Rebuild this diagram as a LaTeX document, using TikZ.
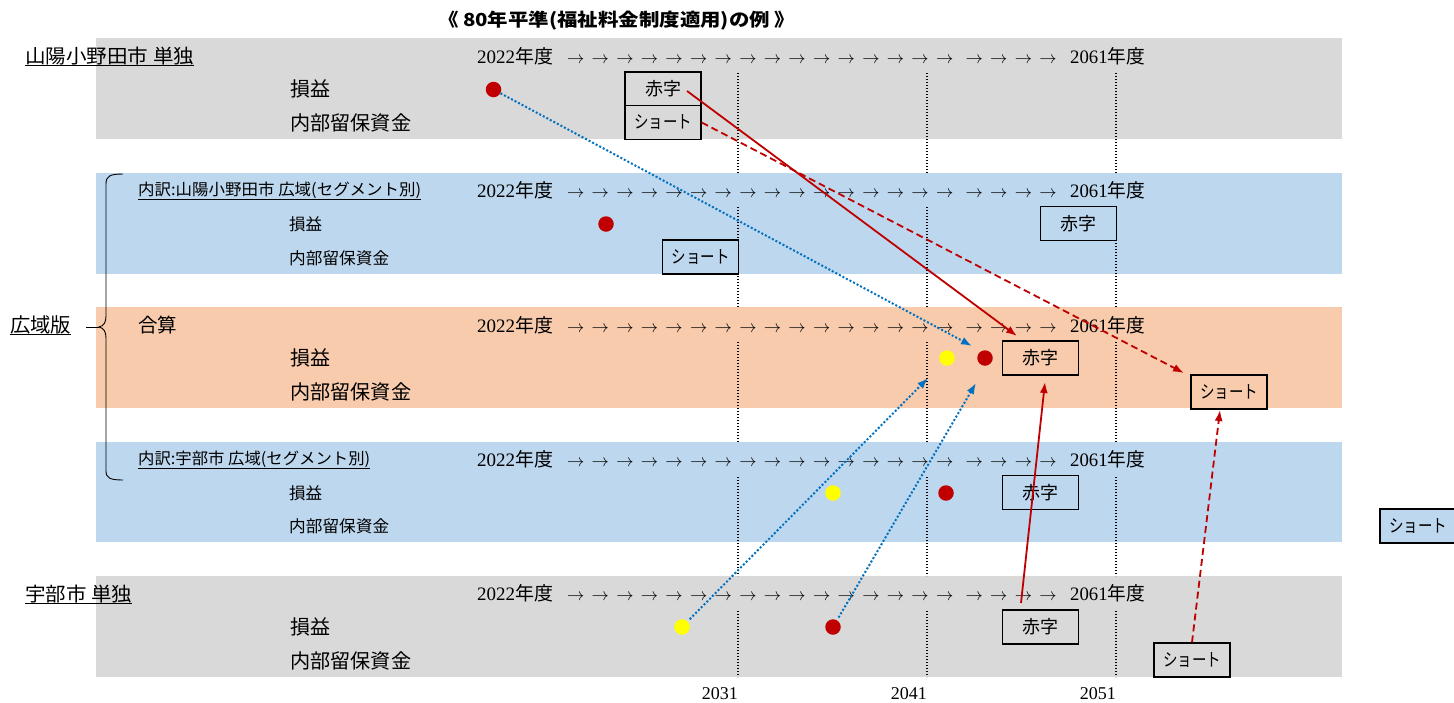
\documentclass[tikz,border=0pt]{standalone}
\usepackage{fontspec}
\usepackage{graphicx}
\setmainfont{Liberation Serif}
\newfontfamily\jp{Noto Sans CJK JP}
\usetikzlibrary{arrows.meta,calc}
\definecolor{bandgray}{HTML}{D9D9D9}
\definecolor{bandblue}{HTML}{BDD7EE}
\definecolor{bandorange}{HTML}{F8CBAD}
\definecolor{darkred}{HTML}{C00000}
\definecolor{linkblue}{HTML}{0070C0}
\definecolor{dotyellow}{HTML}{FFFF00}
\newcommand\fs[1]{\fontsize{#1}{#1}\selectfont}
\newcommand\fitw[2]{\resizebox{#1}{\height}{#2}}
\newcommand\arrs[1]{\foreach \k in {1,...,#1}{\makebox[24.6pt]{$\rightarrow$}}}
\newcommand\yrrow[2]{%
  \node[yr] (#1a) at (477,#2+7) {\fitw{76pt}{2022{\jp 年度}}};
  \node[yr] (#1b) at (563.2,#2+7) {\arrs{16}};
  \node[yr] (#1c) at (961.7,#2+7) {\arrs{4}};
  \node[yr] (#1d) at (1070,#2+7) {\fitw{75pt}{2061{\jp 年度}}};}
\begin{document}
\begin{tikzpicture}[x=1pt,y=-1pt,
  lbl/.style={inner sep=0pt, anchor=west, text=black},
  yr/.style={inner sep=0pt, anchor=base west, font=\fs{19}},
  box/.style={draw=black, line width=1.4pt, minimum width=76pt, minimum height=34pt, inner sep=0pt, font=\jp\fs{18}},
  dot/.style={circle, inner sep=0pt, minimum size=15.5pt},
  vdot/.style={line width=1.1pt, dash pattern=on 1.1pt off 1.9pt},
  tip/.style={-{Latex[length=11pt,width=8pt]}},
  rsolid/.style={draw=darkred, line width=1.8pt, tip},
  rdash/.style={draw=darkred, line width=1.8pt, dash pattern=on 7pt off 4pt, tip},
  bdot/.style={draw=linkblue, line width=2pt, dash pattern=on 2pt off 2pt, tip},
  uline/.style={line width=1pt},
  yrlab/.style={inner sep=0pt, anchor=east, font=\fs{18}},
]
\useasboundingbox (0,0) rectangle (1454,702);
\fill[white] (0,0) rectangle (1454,702);
% bands
\fill[bandgray]   (96,38)  rectangle (1342,139);
\fill[bandblue]   (96,173) rectangle (1342,274);
\fill[bandorange] (96,307) rectangle (1342,408);
\fill[bandblue]   (96,442) rectangle (1342,542);
\fill[bandgray]   (96,576) rectangle (1342,677);
% vertical dotted guides
\foreach \x in {738,927,1116}{
  \foreach \a/\b in {73/173,207/307,342/442,477/576,611/677}{
    \draw[vdot] (\x,\a) -- (\x,\b);}}
% title
\node[inner sep=0pt, font=\jp\bfseries\fs{18}] (title) at (616.5,21) {\fitw{357pt}{《 80年平準(福祉料金制度適用)の例 》}};
% left labels
\node[lbl, font=\jp\fs{19.5}] (L1) at (25,56) {\fitw{169pt}{山陽小野田市 単独}};
\node[lbl, font=\jp\fs{20}] (L2) at (10,325) {\fitw{61pt}{広域版}};
\node[lbl, font=\jp\fs{19.5}] (L3) at (25,594) {\fitw{107pt}{宇部市 単独}};
\node[lbl, font=\jp\fs{16}] (S1) at (138,190) {\fitw{283pt}{内訳:山陽小野田市 広域(セグメント別)}};
\node[lbl, font=\jp\fs{16}] (S2) at (138,459) {\fitw{232pt}{内訳:宇部市 広域(セグメント別)}};
\node[lbl, font=\jp\fs{19.5}] (G) at (138,325) {\fitw{39pt}{合算}};
\foreach \n in {L1,L2,L3,S1,S2}{
  \draw[uline] ($(\n.west)+(0,9)$) -- ($(\n.east)+(0,9)$);}
% brace
\coordinate (btip) at (99,327);
\coordinate (kvdash) at (86,327);
\draw[line width=0.9pt] (123,174) .. controls (110,174) and (106,176) .. (106,184) -- (106,316)
  .. controls (106,322) and (104,326) .. (btip)
  .. controls (104,328) and (106,332) .. (106,338) -- (106,471)
  .. controls (106,478) and (110,480) .. (123,480);
\draw[line width=0.9pt] (kvdash) -- (btip);
% row labels
\node[lbl, font=\jp\fs{20}] (p1) at (290,89)  {\fitw{40pt}{損益}};
\node[lbl, font=\jp\fs{20}] (n1) at (290,123) {\fitw{121pt}{内部留保資金}};
\node[lbl, font=\jp\fs{16.5}] (p2) at (289,224) {\fitw{33pt}{損益}};
\node[lbl, font=\jp\fs{16.5}] (n2) at (289,258) {\fitw{100pt}{内部留保資金}};
\node[lbl, font=\jp\fs{20}] (p3) at (290,358) {\fitw{40pt}{損益}};
\node[lbl, font=\jp\fs{20}] (n3) at (290,392) {\fitw{121pt}{内部留保資金}};
\node[lbl, font=\jp\fs{16.5}] (p4) at (289,493) {\fitw{33pt}{損益}};
\node[lbl, font=\jp\fs{16.5}] (n4) at (289,526) {\fitw{100pt}{内部留保資金}};
\node[lbl, font=\jp\fs{20}] (p5) at (290,627) {\fitw{40pt}{損益}};
\node[lbl, font=\jp\fs{20}] (n5) at (290,661) {\fitw{121pt}{内部留保資金}};
% year rows
\yrrow{ya}{56}
\yrrow{yb}{190}
\yrrow{yc}{325}
\yrrow{yd}{459}
\yrrow{ye}{593}
% bottom year labels
\node[yrlab] (x2031) at (738,694) {2031};
\node[yrlab] (x2041) at (927,694) {2041};
\node[yrlab] (x2051) at (1116,694) {2051};
% boxes
\node[box, fill=bandgray] (r1) at (663,89) {赤字};
\node[box, fill=bandgray] (s1) at (663,122.5) {\fitw{58pt}{ショート}};
\node[box, fill=bandblue] (r2) at (1078.5,223.5) {赤字};
\node[box, fill=bandblue] (s2) at (700.5,257) {\fitw{58pt}{ショート}};
\node[box, fill=bandorange] (r3) at (1040.5,358) {赤字};
\node[box, fill=bandorange] (s3) at (1229,392) {\fitw{58pt}{ショート}};
\node[box, fill=bandblue] (r4) at (1040.5,492.5) {赤字};
\node[box, fill=bandblue] (s4) at (1418,526) {\fitw{58pt}{ショート}};
\node[box, fill=bandgray] (r5) at (1040.5,627) {赤字};
\node[box, fill=bandgray] (s5) at (1192,660) {\fitw{58pt}{ショート}};
% dots
\node[dot, fill=darkred] (d1) at (493.5,89.5) {};
\node[dot, fill=darkred] (d2) at (606,224) {};
\node[dot, fill=dotyellow] (d3y) at (947,358) {};
\node[dot, fill=darkred] (d3r) at (985,358) {};
\node[dot, fill=dotyellow] (d4y) at (833,493) {};
\node[dot, fill=darkred] (d4r) at (946,493) {};
\node[dot, fill=dotyellow] (d5y) at (682,627) {};
\node[dot, fill=darkred] (d5r) at (833,627) {};
% connector end points
\coordinate (r1o) at (687,91);
\coordinate (t1) at (1017,336);
\coordinate (t2) at (1184,373);
\coordinate (t3) at (972,346);
\coordinate (t4) at (928,378);
\coordinate (t5) at (976,383);
\coordinate (r5o) at (1021,603);
\coordinate (t6) at (1045,382);
\coordinate (t7) at (1220,410);
% connectors
\draw[rsolid] (r1o) -- (t1);
\draw[rdash] (s1.east) -- (t2);
\draw[bdot] (d1) -- (t3);
\draw[bdot, shorten <=3pt] (d5y) -- (t4);
\draw[bdot, shorten <=3pt] (d5r) -- (t5);
\draw[rsolid] (r5o) -- (t6);
\draw[rdash] (s5.north) -- (t7);
\end{tikzpicture}
\end{document}
